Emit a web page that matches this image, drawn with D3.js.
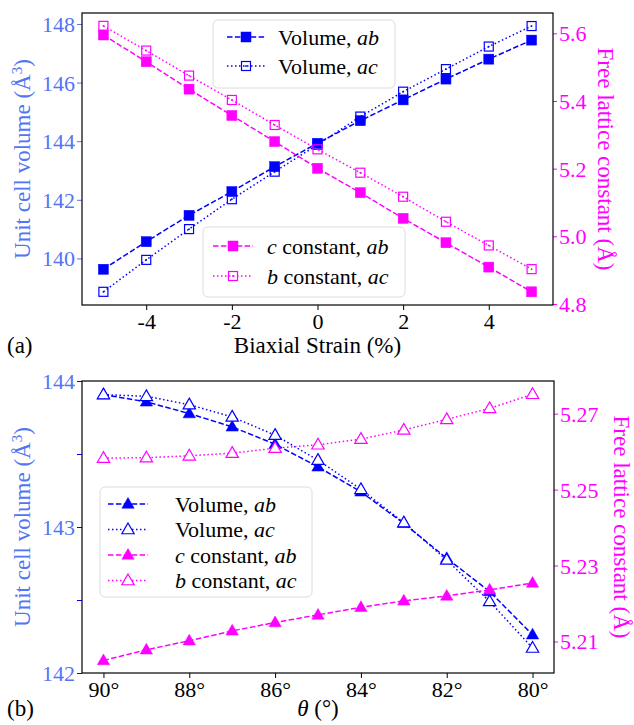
<!DOCTYPE html>
<html>
<head>
<meta charset="utf-8">
<script src="https://cdn.jsdelivr.net/npm/d3@7"></script>
<style>
  body { margin: 0; background: #fff; }
</style>
</head>
<body>
<script>
var W = 634, H = 725,
    BLUE = "#0000ff", MAG = "#ff00ff", LBLUE = "#5474f6",
    FS = 22, LFS = 23;

// panel (a): biaxial strain
var strain = [-5, -4, -3, -2, -1, 0, 1, 2, 3, 4, 5];
var volAB_a = [139.63, 140.57, 141.47, 142.28, 143.13, 143.93, 144.70, 145.41, 146.12, 146.80, 147.45];
var volAC_a = [138.86, 139.95, 141.00, 142.02, 142.96, 143.88, 144.84, 145.69, 146.46, 147.23, 147.93];
var cAB_a = [5.595, 5.516, 5.435, 5.357, 5.280, 5.201, 5.129, 5.053, 4.981, 4.909, 4.836];
var bAC_a = [5.622, 5.549, 5.475, 5.403, 5.329, 5.257, 5.188, 5.117, 5.043, 4.973, 4.903];
var aXTicks = [-4, -2, 0, 2, 4];
var aLeftTicks = [140, 142, 144, 146, 148];
var aRightTicks = [4.8, 5.0, 5.2, 5.4, 5.6];

// panel (b): theta
var theta = [90, 89, 88, 87, 86, 85, 84, 83, 82, 81, 80];
var volAB_b = [143.907, 143.857, 143.777, 143.686, 143.567, 143.412, 143.241, 143.025, 142.786, 142.558, 142.262];
var volAC_b = [143.907, 143.895, 143.838, 143.754, 143.629, 143.458, 143.258, 143.030, 142.774, 142.490, 142.171];
var cAB_b = [5.2050, 5.2078, 5.2102, 5.2128, 5.2150, 5.2170, 5.2190, 5.2207, 5.2220, 5.2236, 5.2254];
var bAC_b = [5.2583, 5.2584, 5.2589, 5.2596, 5.2609, 5.2618, 5.2633, 5.2657, 5.2685, 5.2714, 5.2751];
var bXTicks = [90, 88, 86, 84, 82, 80];
var bLeftTicks = [142, 142.5, 143, 143.5, 144];
var bRightTicks = [5.21, 5.23, 5.25, 5.27];

var svg = d3.select("body").append("svg").attr("width", W).attr("height", H);

// marker drawing
function marker(g, shape, filled, color, x, y) {
  if (shape == "square") {
    var s = filled ? 10 : 9;
    g.append("rect").attr("x", x - s / 2).attr("y", y - s / 2).attr("width", s).attr("height", s)
      .attr("fill", filled ? color : "none").attr("stroke", color).attr("stroke-width", filled ? 0.5 : 1.2);
    if (!filled) g.append("circle").attr("cx", x).attr("cy", y).attr("r", 0.9).attr("fill", color);
  } else {
    var r = 6.5;
    var pts = [[x, y - r], [x + r * 0.95, y + r * 0.65], [x - r * 0.95, y + r * 0.65]];
    g.append("path").attr("d", "M" + pts.join("L") + "Z")
      .attr("fill", filled ? color : "#fff").attr("stroke", color).attr("stroke-width", filled ? 0.5 : 1.2);
  }
}

function series(g, xs, ys, x, y, color, dash, shape, filled) {
  var line = d3.line().x(function (d, i) { return x(xs[i]) }).y(function (d) { return y(d) });
  g.append("path").datum(ys).attr("d", line).attr("fill", "none")
    .attr("stroke", color).attr("stroke-width", 1.5)
    .attr("stroke-dasharray", dash == "dashed" ? "5.5,2.4" : "1.5,2.5");
  ys.forEach(function (v, i) { marker(g, shape, filled, color, x(xs[i]), y(v)) });
}

// rich text: array of [text, italic]
function richText(t, parts) {
  parts.forEach(function (p) {
    t.append("tspan").text(p[0]).attr("font-style", p[1] ? "italic" : "normal");
  });
}

function legend(g, box, entries) {
  g.append("rect").attr("x", box.x).attr("y", box.y).attr("width", box.w).attr("height", box.h)
    .attr("rx", 5).attr("fill", "#fff").attr("fill-opacity", 0.85)
    .attr("stroke", "#dcdcdc").attr("stroke-width", 1);
  entries.forEach(function (e, i) {
    var cy = box.y + box.first + i * box.step;
    g.append("line").attr("x1", box.hx).attr("x2", box.hx + box.hw).attr("y1", cy).attr("y2", cy)
      .attr("stroke", e.color).attr("stroke-width", 1.5)
      .attr("stroke-dasharray", e.dash == "dashed" ? "5.5,2.4" : "1.5,2.5");
    marker(g, e.shape, e.filled, e.color, box.hx + box.hw / 2, cy);
    var t = g.append("text").attr("x", box.tx).attr("y", cy + 7.5).attr("font-size", FS).attr("fill", "#000");
    richText(t, e.label);
  });
}

function panel(p) {
  var g = svg.append("g");
  var x = d3.scaleLinear().domain(p.xDomain).range([p.left, p.right]);
  var yL = d3.scaleLinear().domain(p.yLDomain).range([p.bottom, p.top]);
  var yR = d3.scaleLinear().domain(p.yRDomain).range([p.bottom, p.top]);

  // axes
  var ax = g.append("g").attr("transform", "translate(0," + p.bottom + ")")
    .call(d3.axisBottom(x).tickValues(p.xTicks).tickSize(5).tickPadding(3).tickFormat(p.xFmt));
  ax.select(".domain").remove();
  ax.selectAll("text").attr("font-size", FS).attr("fill", "#000");
  ax.selectAll("line").attr("stroke", "#000");

  var al = g.append("g").attr("transform", "translate(" + p.left + ",0)")
    .call(d3.axisLeft(yL).tickValues(p.yLTicks).tickSize(5).tickPadding(2).tickFormat(p.yLFmt));
  al.select(".domain").remove();
  al.selectAll("text").attr("font-size", FS).attr("fill", LBLUE).attr("dy", "0.34em");
  al.selectAll("line").attr("stroke", p.leftTickColor);

  var ar = g.append("g").attr("transform", "translate(" + p.right + ",0)")
    .call(d3.axisRight(yR).tickValues(p.yRTicks).tickSize(4).tickPadding(2).tickFormat(p.yRFmt));
  ar.select(".domain").remove();
  ar.selectAll("text").attr("font-size", FS).attr("fill", MAG).attr("dy", "0.34em");
  ar.selectAll("line").attr("stroke", MAG);

  // data: volume on left axis, lattice constants on twin axis drawn above
  series(g, p.xs, p.volAB, x, yL, BLUE, "dashed", p.shape, true);
  series(g, p.xs, p.volAC, x, yL, BLUE, "dotted", p.shape, false);
  series(g, p.xs, p.cAB, x, yR, MAG, "dashed", p.shape, true);
  series(g, p.xs, p.bAC, x, yR, MAG, "dotted", p.shape, false);

  g.append("rect").attr("x", p.left).attr("y", p.top)
    .attr("width", p.right - p.left).attr("height", p.bottom - p.top)
    .attr("fill", "none").attr("stroke", "#000").attr("stroke-width", 1.2);

  // axis labels
  var lt = g.append("text").attr("transform", "translate(" + p.leftLabelX + "," + (p.top + p.bottom) / 2 + ") rotate(-90)")
    .attr("text-anchor", "middle").attr("font-size", LFS).attr("fill", LBLUE).attr("dy", "0.35em");
  lt.append("tspan").text("Unit cell volume (Å");
  lt.append("tspan").text("3").attr("font-size", 15).attr("dy", "-0.55em");
  lt.append("tspan").text(")").attr("dy", "0.37em");

  g.append("text").attr("transform", "translate(" + p.rightLabelX + "," + (p.top + p.bottom) / 2 + ") rotate(90)")
    .attr("text-anchor", "middle").attr("font-size", LFS).attr("fill", MAG).attr("dy", "0.35em")
    .text("Free lattice constant (Å)");

  var xt = g.append("text").attr("x", (p.left + p.right) / 2).attr("y", p.xLabelY)
    .attr("text-anchor", "middle").attr("font-size", LFS).attr("fill", "#000");
  richText(xt, p.xLabel);

  g.append("text").attr("x", 7).attr("y", p.xLabelY).attr("font-size", LFS).attr("fill", "#000").text(p.tag);

  p.legends.forEach(function (l) { legend(g, l.box, l.entries) });
}

var E = {
  volAB: function (s) { return { color: BLUE, dash: "dashed", shape: s, filled: true, label: [["Volume, ", 0], ["ab", 1]] } },
  volAC: function (s) { return { color: BLUE, dash: "dotted", shape: s, filled: false, label: [["Volume, ", 0], ["ac", 1]] } },
  cAB: function (s) { return { color: MAG, dash: "dashed", shape: s, filled: true, label: [["c", 1], [" constant, ", 0], ["ab", 1]] } },
  bAC: function (s) { return { color: MAG, dash: "dotted", shape: s, filled: false, label: [["b", 1], [" constant, ", 0], ["ac", 1]] } }
};

// plain hyphen minus like the reference
var intFmt = function (d) { return String(d) };

panel({
  left: 82, right: 553, top: 13, bottom: 305,
  xDomain: [-5.5, 5.5], yLDomain: [138.41, 148.375], yRDomain: [4.797, 5.66],
  xTicks: aXTicks, yLTicks: aLeftTicks, yRTicks: aRightTicks,
  xFmt: intFmt, yLFmt: intFmt, yRFmt: function (d) { return d.toFixed(1) },
  leftTickColor: LBLUE,
  xs: strain, volAB: volAB_a, volAC: volAC_a, cAB: cAB_a, bAC: bAC_a, shape: "square",
  leftLabelX: 22, rightLabelX: 606, xLabelY: 353,
  xLabel: [["Biaxial Strain (%)", 0]], tag: "(a)",
  legends: [
    { box: { x: 213, y: 20, w: 182, h: 68, first: 17, step: 29, hx: 227, hw: 38, tx: 278 },
      entries: [E.volAB("square"), E.volAC("square")] },
    { box: { x: 203, y: 227, w: 202, h: 70, first: 19, step: 30, hx: 213, hw: 40, tx: 267 },
      entries: [E.cAB("square"), E.bAC("square")] }
  ]
});

panel({
  left: 82, right: 554, top: 381, bottom: 673,
  xDomain: [90.5, 79.5], yLDomain: [142, 144], yRDomain: [5.2017, 5.2786],
  xTicks: bXTicks, yLTicks: bLeftTicks, yRTicks: bRightTicks,
  xFmt: function (d) { return d + "°" },
  yLFmt: function (d) { return d % 1 == 0 ? d : "" },
  yRFmt: function (d) { return d.toFixed(2) },
  leftTickColor: BLUE,
  xs: theta, volAB: volAB_b, volAC: volAC_b, cAB: cAB_b, bAC: bAC_b, shape: "triangle",
  leftLabelX: 22, rightLabelX: 622, xLabelY: 716,
  xLabel: [["θ", 1], [" (°)", 0]], tag: "(b)",
  legends: [
    { box: { x: 100, y: 487, w: 212, h: 110, first: 17, step: 25.5, hx: 108, hw: 40, tx: 175 },
      entries: [E.volAB("triangle"), E.volAC("triangle"), E.cAB("triangle"), E.bAC("triangle")] }
  ]
});

// serif everywhere, set inline so the axis defaults cannot win
svg.selectAll("text, tspan").style("font-family", "'Liberation Serif'");
</script>
</body>
</html>
